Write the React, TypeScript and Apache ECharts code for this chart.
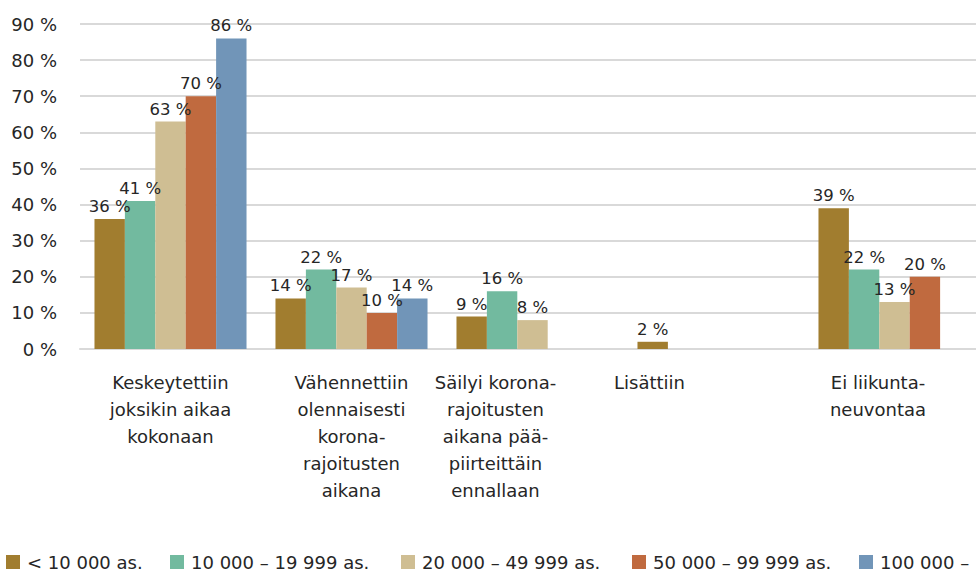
import React, { useEffect, useRef } from "react";
import * as echarts from "echarts";

const categories = [
  "Keskeytettiin\njoksikin aikaa\nkokonaan",
  "Vähennettiin\nolennaisesti\nkorona-\nrajoitusten\naikana",
  "Säilyi korona-\nrajoitusten\naikana pää-\npiirteittäin\nennallaan",
  "Lisättiin",
  "Ei liikunta-\nneuvontaa",
];

const seriesNames = [
  "< 10 000 as.",
  "10 000 – 19 999 as.",
  "20 000 – 49 999 as.",
  "50 000 – 99 999 as.",
  "100 000 –",
];

const under10k = [36, 14, 9, 2, 39];
const from10kTo20k = [41, 22, 16, null, 22];
const from20kTo50k = [63, 17, 8, null, 13];
const from50kTo100k = [70, 10, null, null, 20];
const over100k = [86, 14, null, null, null];

const seriesValues = [under10k, from10kTo20k, from20kTo50k, from50kTo100k, over100k];

const colors = ["#A17D2F", "#72BA9F", "#CFBE93", "#C06A3F", "#7195B8"];
const labelShift = [0, 0, 74, 128, 33];
const legendTextWidths = [119, 186, 186, 182, 100];

const FONT = "'DejaVu Sans', sans-serif";
const TEXT = "#262626";

export default function App() {
  const ref = useRef<HTMLDivElement>(null);
  useEffect(() => {
    if (!ref.current) return;
    const chart = echarts.init(ref.current, null, { renderer: "svg" });
    chart.setOption({
      animation: false,
      color: colors,
      textStyle: { fontFamily: FONT },
      grid: { left: 80, top: 24, width: 905, height: 325, containLabel: false },
      legend: {
        left: 6,
        top: 553,
        padding: 0,
        width: 1300,
        itemWidth: 14,
        itemHeight: 14,
        itemGap: 24,
        icon: "rect",
        textStyle: {
          fontFamily: FONT,
          fontSize: 18,
          lineHeight: 14,
          color: TEXT,
          padding: [0, 0, 0, 2],
        },
        data: seriesNames.map((name, i) => ({
          name,
          textStyle: { width: legendTextWidths[i] },
        })),
      },
      xAxis: {
        type: "category",
        data: categories.map((c, i) => ({
          value: c,
          textStyle: { padding: labelShift[i] ? [0, labelShift[i], 0, 0] : 0 },
        })),
        axisLine: { lineStyle: { color: "#d9d9d9", width: 2 } },
        axisTick: { show: false },
        axisLabel: {
          interval: 0,
          margin: 20,
          fontSize: 18,
          lineHeight: 27,
          color: TEXT,
          fontFamily: FONT,
          align: "center",
        },
      },
      yAxis: {
        type: "value",
        min: 0,
        max: 90,
        interval: 10,
        axisLine: { show: false },
        axisTick: { show: false },
        splitLine: { lineStyle: { color: "#d9d9d9", width: 2 } },
        axisLabel: {
          margin: 23,
          fontSize: 18,
          color: TEXT,
          fontFamily: FONT,
          formatter: (v: number) => `${v} %`,
        },
      },
      series: seriesNames.map((name, i) => ({
        name,
        type: "bar",
        barGap: "0%",
        barCategoryGap: "16%",
        data: seriesValues[i],
        itemStyle: { color: colors[i] },
        label: {
          show: true,
          position: "top",
          distance: 4,
          fontSize: 16.5,
          color: TEXT,
          fontFamily: FONT,
          formatter: (p: any) => (p.value == null ? "" : `${p.value} %`),
        },
      })),
    });
    return () => chart.dispose();
  }, []);
  return (
    <div
      style={{
        position: "fixed",
        left: 0,
        top: 0,
        width: 976,
        height: 571,
        overflow: "hidden",
        background: "#fff",
      }}
    >
      <div ref={ref} style={{ width: 1000, height: 571 }} />
    </div>
  );
}
